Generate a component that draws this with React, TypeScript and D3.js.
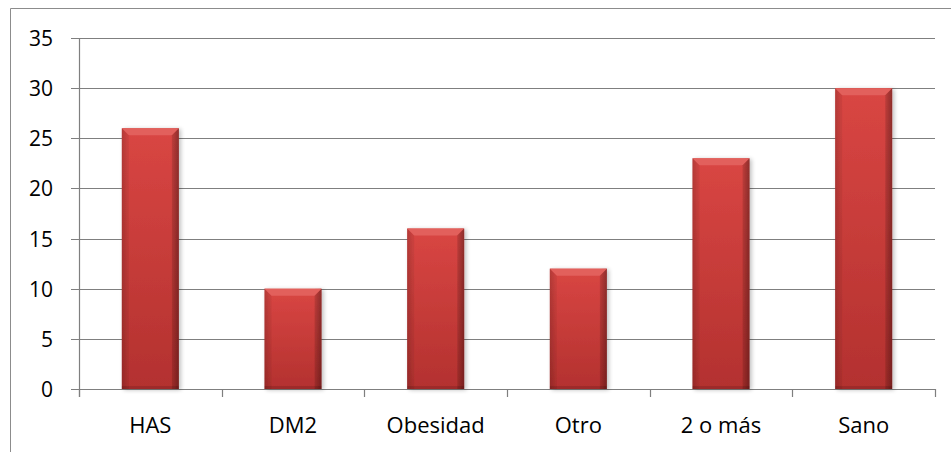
import React from "react";
import * as d3 from "d3";

const categories = ["HAS", "DM2", "Obesidad", "Otro", "2 o más", "Sano"];
const values = [26, 10, 16, 12, 23, 30];
const yTicks = [0, 5, 10, 15, 20, 25, 30, 35];

const W = 951;
const H = 452;
const M = { left: 79, right: 16, top: 38, bottom: 63 };

export default function App() {
  const x = d3
    .scaleBand<string>()
    .domain(categories)
    .range([M.left, W - M.right])
    .paddingInner(0.6)
    .paddingOuter(0.3);
  const y = d3.scaleLinear().domain([0, 35]).range([H - M.bottom, M.top]);
  const bw = x.bandwidth();
  const bev = 7;
  const font = "'Open Sans', 'Liberation Sans', sans-serif";
  const boundaries = d3.range(categories.length + 1).map((i) => M.left + i * ((W - M.right - M.left) / categories.length));

  return (
    <svg
      width={W}
      height={H}
      style={{ position: "absolute", left: 0, top: 0, background: "#fff" }}
    >
      <defs>
        <linearGradient id="vg" x1="0" y1="0" x2="0" y2="1">
          <stop offset="0" stopColor="#d94643" />
          <stop offset="1" stopColor="#b3312f" />
        </linearGradient>
        <linearGradient id="hg" x1="0" y1="0" x2="1" y2="0">
          <stop offset="0" stopColor="#000" stopOpacity="0.12" />
          <stop offset="0.1" stopColor="#000" stopOpacity="0.0" />
          <stop offset="0.88" stopColor="#000" stopOpacity="0.0" />
          <stop offset="1" stopColor="#000" stopOpacity="0.25" />
        </linearGradient>
        <filter id="sh" x="-20%" y="-5%" width="150%" height="115%">
          <feGaussianBlur in="SourceAlpha" stdDeviation="2" />
          <feOffset dx="2" dy="1" result="b" />
          <feComponentTransfer>
            <feFuncA type="linear" slope="0.25" />
          </feComponentTransfer>
          <feMerge>
            <feMergeNode />
            <feMergeNode in="SourceGraphic" />
          </feMerge>
        </filter>
      </defs>
      <path d={`M10.5,${H} V8.5 H${W}`} fill="none" stroke="#8c8c8c" strokeWidth={1} />
      {yTicks.map((t) => (
        <line
          key={t}
          x1={M.left - 8}
          x2={W - M.right}
          y1={Math.round(y(t)) + 0.5}
          y2={Math.round(y(t)) + 0.5}
          stroke="#7f7f7f"
          strokeWidth={1.2}
        />
      ))}
      <line x1={M.left + 0.5} x2={M.left + 0.5} y1={M.top} y2={y(0) + 8} stroke="#7f7f7f" strokeWidth={1.2} />
      {boundaries.map((b, i) => (
        <line
          key={i}
          x1={Math.round(b) + 0.5}
          x2={Math.round(b) + 0.5}
          y1={y(0)}
          y2={y(0) + 8}
          stroke="#7f7f7f"
          strokeWidth={1.2}
        />
      ))}
      {yTicks.map((t) => (
        <text
          key={t}
          x={53}
          y={y(t)}
          textAnchor="end"
          dominantBaseline="central"
          fontFamily={font}
          fontSize={21}
          fill="#000"
        >
          {t}
        </text>
      ))}
      {categories.map((c, i) => {
        const x0 = x(c)!;
        const y0 = y(values[i]);
        const h = y(0) - y0;
        return (
          <g key={c} filter="url(#sh)">
            <rect x={x0} y={y0} width={bw} height={h} fill="url(#vg)" />
            <rect x={x0} y={y0} width={bw} height={h} fill="url(#hg)" />
            <path
              d={`M${x0},${y0} H${x0 + bw} L${x0 + bw - bev},${y0 + bev} H${x0 + bev} Z`}
              fill="#e2605c"
            />
            <path
              d={`M${x0},${y0} L${x0 + bev},${y0 + bev} V${y0 + h} H${x0} Z`}
              fill="#000"
              opacity={0.06}
            />
            <path
              d={`M${x0 + bw},${y0} L${x0 + bw - bev},${y0 + bev} V${y0 + h} H${x0 + bw} Z`}
              fill="#000"
              opacity={0.12}
            />
            <rect x={x0} y={y0 + h - 3} width={bw} height={3} fill="#000" opacity={0.12} />
          </g>
        );
      })}
      {categories.map((c) => (
        <text
          key={c}
          x={x(c)! + bw / 2}
          y={424}
          textAnchor="middle"
          dominantBaseline="central"
          fontFamily={font}
          fontSize={22}
          fill="#000"
        >
          {c}
        </text>
      ))}
    </svg>
  );
}
